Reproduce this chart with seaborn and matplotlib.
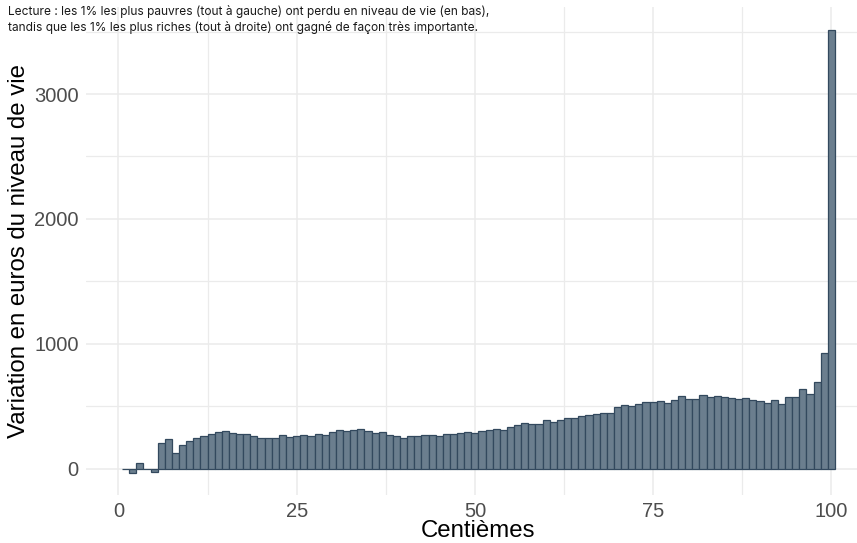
import matplotlib
matplotlib.use("Agg")
import matplotlib.pyplot as plt
import seaborn as sns
import numpy as np
import pandas as pd
from matplotlib.ticker import MultipleLocator

# Centiles 1..100 and change in living standard (euros)
centiles = list(range(1, 101))
variation = [
    -5, -32, 43, 0, -24, 205, 235, 125, 190, 221,
    245, 259, 277, 296, 301, 283, 277, 275, 264, 248,
    243, 248, 269, 256, 259, 267, 264, 275, 272, 293,
    309, 301, 312, 317, 304, 283, 291, 272, 261, 245,
    264, 259, 269, 269, 259, 280, 280, 288, 293, 288,
    304, 309, 317, 312, 331, 349, 363, 360, 357, 392,
    373, 387, 403, 405, 424, 432, 440, 443, 443, 493,
    509, 504, 520, 533, 531, 541, 528, 549, 581, 557,
    560, 587, 573, 579, 573, 568, 560, 568, 552, 541,
    528, 552, 517, 576, 573, 635, 600, 693, 931, 3515,
]
x_ticks = [0, 25, 50, 75, 100]
y_ticks = [0, 1000, 2000, 3000]

note_lines = [
    "Lecture : les 1% les plus pauvres (tout à gauche) ont perdu en niveau de vie (en bas),",
    "tandis que les 1% les plus riches (tout à droite) ont gagné de façon très importante.",
]

df = pd.DataFrame({"centile": centiles, "variation": variation})

sns.set_style("white")
plt.rcParams["font.family"] = ["Liberation Sans", "DejaVu Sans"]

fig = plt.figure(figsize=(8.57, 5.43), dpi=100)
ax = fig.add_axes([0.1008, 0.0884, 0.915, 0.8978])

sns.barplot(data=df, x="centile", y="variation", native_scale=True, width=1,
            color="#6B7E8E", saturation=1, edgecolor="#33495E", linewidth=0.9,
            errorbar=None, ax=ax, zorder=3)

# ggplot-like 5% expansion
ymin, ymax = min(variation), max(variation)
yr = ymax - ymin
ax.set_xlim(-4.5, 105.5)
ax.set_ylim(ymin - 0.05 * yr, ymax + 0.05 * yr)

ax.set_xticks(x_ticks)
ax.set_yticks(y_ticks)
ax.xaxis.set_minor_locator(MultipleLocator(12.5))
ax.yaxis.set_minor_locator(MultipleLocator(500))
ax.grid(which="major", color="#EBEBEB", linewidth=1.1, zorder=0)
ax.grid(which="minor", color="#EBEBEB", linewidth=0.9, zorder=0)
ax.set_axisbelow(True)
for s in ax.spines.values():
    s.set_visible(False)
ax.tick_params(which="both", length=0)
ax.tick_params(axis="x", labelsize=14.5, labelcolor="#4D4D4D", pad=5)
ax.tick_params(axis="y", labelsize=14.5, labelcolor="#4D4D4D", pad=5.5)

ax.set_xlabel("Centièmes", fontsize=17.3, color="black", labelpad=-0.5)
ax.set_ylabel("Variation en euros du niveau de vie", fontsize=17.3, color="black", labelpad=3)

for i, line in enumerate(note_lines):
    fig.text(8 / 857, 1 - (12 + 15 * i) / 543, line, fontsize=8.6,
             family=["Inter", "DejaVu Sans"], color="#1A1A1A", va="center", ha="left")

fig.savefig("out.png", dpi=100)
